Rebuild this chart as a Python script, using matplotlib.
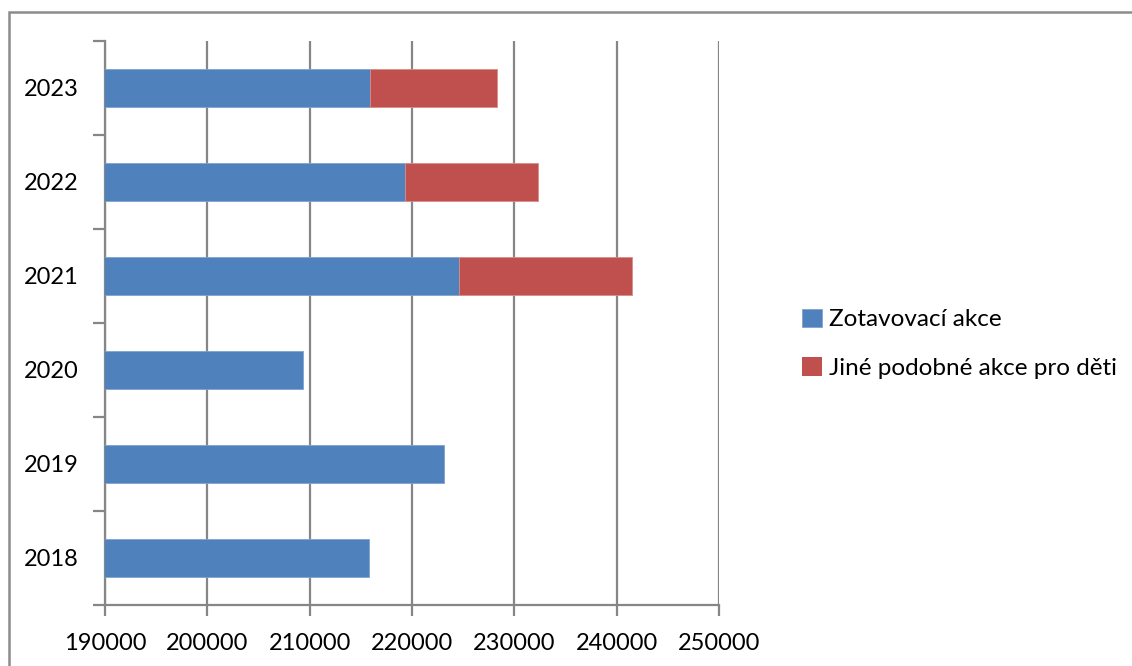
import numpy as np
import matplotlib.pyplot as plt
from matplotlib.patches import Rectangle

# Data
years = ['2018', '2019', '2020', '2021', '2022', '2023']
zotavovaci = [215770, 223160, 209330, 224630, 219320, 215900]
jine = [0, 0, 0, 16850, 12960, 12400]
x_ticks = [190000, 200000, 210000, 220000, 230000, 240000, 250000]

blue = '#4F81BD'
red = '#C0504D'
grid_col = '#868686'

plt.rcParams['font.family'] = ['Lato', 'DejaVu Sans']

fig = plt.figure(figsize=(11.32, 6.66), dpi=100)
ax = fig.add_axes([105 / 1132, 61 / 666, 614 / 1132, 564 / 666])

pos = np.arange(len(years))
ax.barh(pos, zotavovaci, height=0.4, color=blue, edgecolor='#7FA3D1',
        linewidth=0.6, label='Zotavovací akce', zorder=3)
red_edges = ['#D98C8A' if v > 0 else 'none' for v in jine]
ax.barh(pos, jine, left=zotavovaci, height=0.4, color=red, edgecolor=red_edges,
        linewidth=0.6, label='Jiné podobné akce pro děti', zorder=3)

ax.set_xlim(190000, 250000)
ax.set_ylim(-0.5, len(years) - 0.5)
ax.set_xticks(x_ticks)
ax.set_xticklabels([str(v) for v in x_ticks])
ax.set_yticks(pos)
ax.set_yticklabels(years)
ax.set_yticks(np.arange(len(years) + 1) - 0.5, minor=True)

ax.grid(axis='x', color=grid_col, linewidth=1.6, zorder=0)
ax.set_axisbelow(True)

for s in ['top', 'right']:
    ax.spines[s].set_visible(False)
for s in ['left', 'bottom']:
    ax.spines[s].set_color(grid_col)
    ax.spines[s].set_linewidth(1.6)

ax.tick_params(axis='y', which='major', length=0, pad=19, labelsize=17)
ax.tick_params(axis='y', which='minor', length=9, width=1.6, color=grid_col)
ax.tick_params(axis='x', length=8, width=1.6, color=grid_col, pad=12, labelsize=17)

leg = ax.legend(loc='center left', bbox_to_anchor=(1.1, 0.463), frameon=False,
                fontsize=17.5, handlelength=0.8, handleheight=0.8,
                handletextpad=0.3, labelspacing=1.1)

# outer chart frame
fig.patches.append(Rectangle((9 / 1132, -0.1), 1.2, (666 - 12) / 666 + 0.1,
                             transform=fig.transFigure, fill=False,
                             edgecolor='#8C8C8C', linewidth=1.8, clip_on=False))

fig.savefig('out.png', dpi=100)
